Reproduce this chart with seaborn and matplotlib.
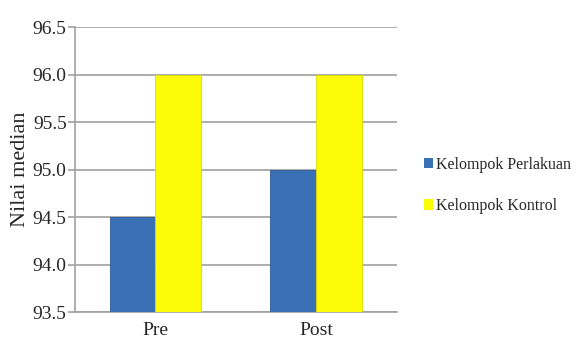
import pandas as pd
import numpy as np
import matplotlib.pyplot as plt
import seaborn as sns

# data
waktu = ['Pre', 'Post']
kelompok = ['Kelompok Perlakuan', 'Kelompok Kontrol']
perlakuan = [94.5, 95.0]
kontrol = [96.0, 96.0]

df = pd.DataFrame({
    'Waktu': waktu * 2,
    'Kelompok': [kelompok[0]] * 2 + [kelompok[1]] * 2,
    'Nilai': perlakuan + kontrol,
})

sns.set_style('white')
plt.rcParams['font.family'] = ['Liberation Serif', 'DejaVu Serif']

fig = plt.figure(figsize=(5.83, 3.51), dpi=100)
ax = fig.add_axes([0.1286, 0.111, 0.552, 0.812])

colors = ['#3a70b6', '#fcfc08']
sns.barplot(data=df, x='Waktu', y='Nilai', hue='Kelompok', palette=colors,
            width=0.57, saturation=1, ax=ax, zorder=3,
            edgecolor='#2d5a94', linewidth=0.6)
# yellow bars get a softer edge
for bar in ax.containers[1]:
    bar.set_edgecolor('#dada00')

ticks = np.arange(93.5, 96.51, 0.5)
ax.set_ylim(93.5, 96.5)
ax.set_yticks(ticks)
ax.set_yticklabels([f'{v:.1f}' for v in ticks], fontsize=14)
ax.set_xlim(-0.5, 1.5)
ax.tick_params(axis='x', labelsize=14, length=0, pad=7)
ax.tick_params(axis='y', length=5, width=1.2, color='#a0a0a0', direction='out', left=True, pad=1)

ax.yaxis.grid(True, color='#a0a0a0', linewidth=1.2, zorder=0)
ax.set_axisbelow(True)
for s in ['top', 'right']:
    ax.spines[s].set_visible(False)
for s in ['left', 'bottom']:
    ax.spines[s].set_color('#a0a0a0')
    ax.spines[s].set_linewidth(1.2)

ax.set_xlabel('')
ax.set_ylabel('Nilai median', fontsize=16, labelpad=2)

ax.get_legend().remove()
handles = [plt.Rectangle((0, 0), 1, 1, facecolor=c, edgecolor='none') for c in colors]
fig.legend(handles, kelompok, loc='center left', bbox_to_anchor=(0.702, 0.472),
           frameon=False, fontsize=11.5, handlelength=0.6, handleheight=0.6,
           handletextpad=0.2, labelspacing=1.6)

plt.savefig('out.png', dpi=100)
